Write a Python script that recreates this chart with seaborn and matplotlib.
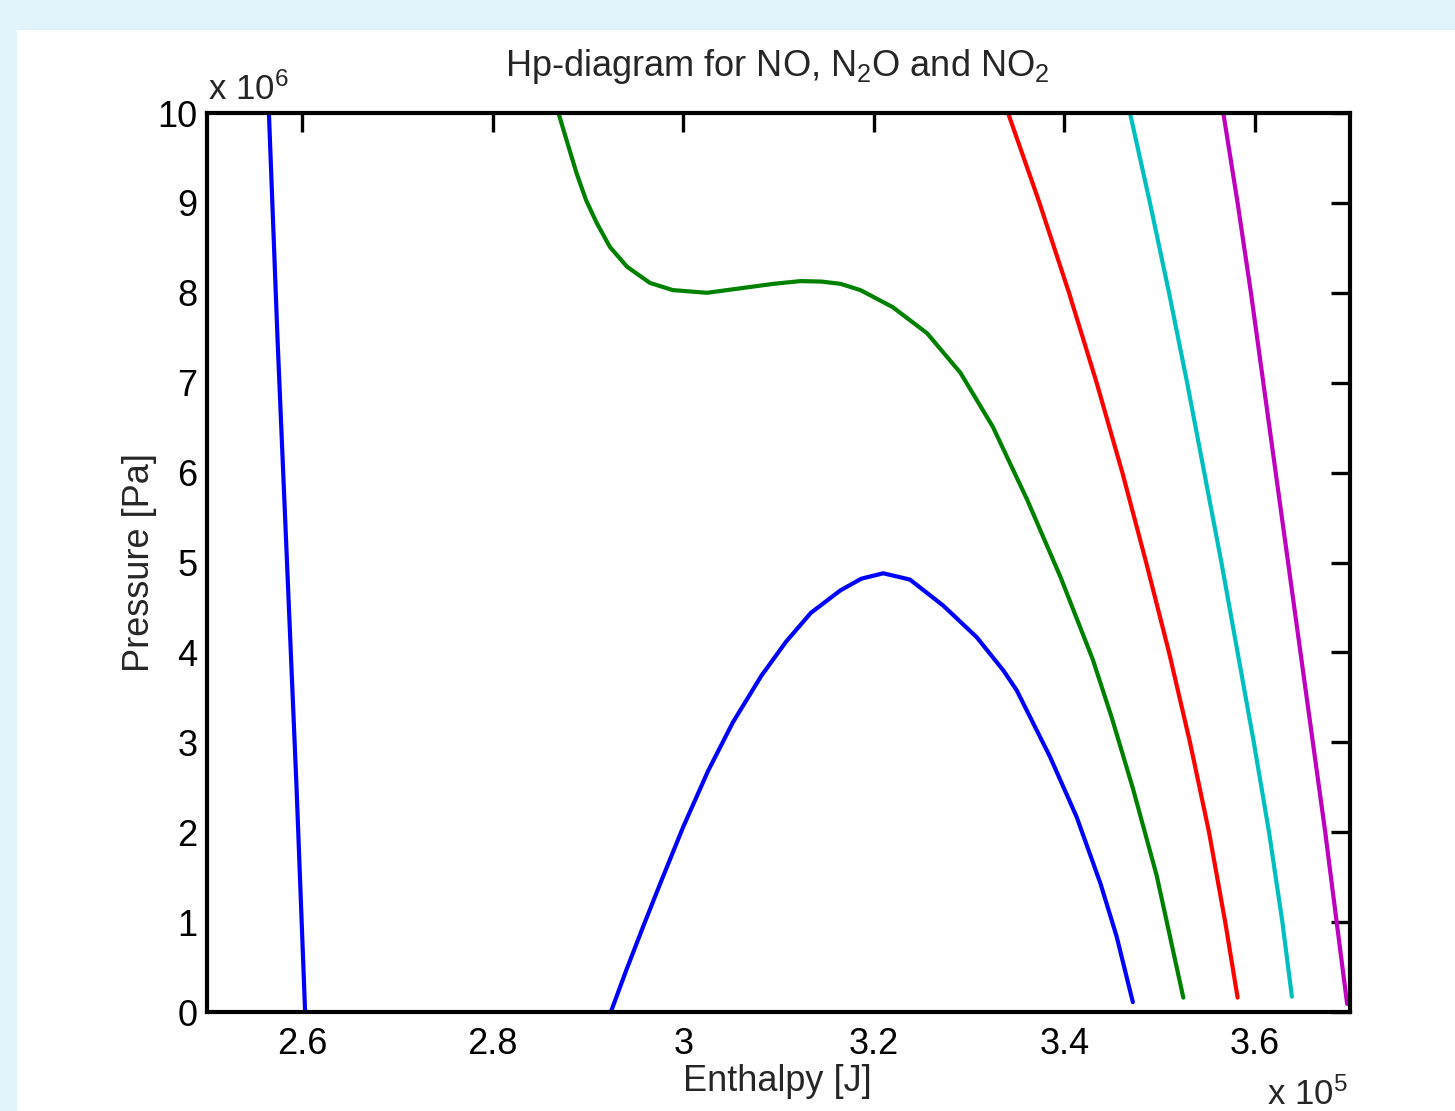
import pandas as pd
import matplotlib.pyplot as plt
from matplotlib.patches import Rectangle
import seaborn as sns

# Enthalpy in units of 1e5 J, pressure in units of 1e6 Pa
blue_left_h = [2.565, 2.574, 2.584, 2.594, 2.603]
blue_left_p = [10.0, 7.5, 5.0, 2.5, 0.0]

blue_arch_h = [2.924, 2.940, 2.959, 2.977, 3.000, 3.026, 3.052, 3.082, 3.108, 3.134, 3.165, 3.187,
               3.210, 3.238, 3.273, 3.308, 3.336, 3.350, 3.385, 3.413, 3.438, 3.455, 3.472]
blue_arch_p = [0.00, 0.46, 0.98, 1.46, 2.06, 2.68, 3.22, 3.74, 4.12, 4.44, 4.69, 4.82,
               4.88, 4.81, 4.52, 4.17, 3.80, 3.58, 2.84, 2.17, 1.43, 0.84, 0.11]

green_h = [2.869, 2.878, 2.888, 2.898, 2.909, 2.923, 2.941, 2.965, 2.989, 3.025, 3.067, 3.095,
           3.123, 3.145, 3.165, 3.186, 3.220, 3.256, 3.291, 3.325, 3.361, 3.396, 3.430,
           3.450, 3.472, 3.497, 3.525]
green_p = [10.0, 9.68, 9.33, 9.03, 8.78, 8.51, 8.29, 8.11, 8.03, 8.00, 8.06, 8.10,
           8.13, 8.125, 8.10, 8.03, 7.84, 7.55, 7.11, 6.51, 5.70, 4.84, 3.92,
           3.27, 2.49, 1.52, 0.16]

red_h = [3.341, 3.374, 3.405, 3.434, 3.461, 3.486, 3.510, 3.532, 3.552, 3.569, 3.582]
red_p = [10.0, 9.0, 8.0, 7.0, 6.0, 5.0, 4.0, 3.0, 2.0, 1.0, 0.16]

cyan_h = [3.469, 3.490, 3.510, 3.529, 3.547, 3.565, 3.582, 3.599, 3.615, 3.629, 3.639]
cyan_p = [10.0, 9.0, 8.0, 7.0, 6.0, 5.0, 4.0, 3.0, 2.0, 1.0, 0.17]

magenta_h = [3.567, 3.582, 3.596, 3.609, 3.622, 3.635, 3.648, 3.661, 3.674, 3.686, 3.697]
magenta_p = [10.0, 9.0, 8.0, 7.0, 6.0, 5.0, 4.0, 3.0, 2.0, 1.0, 0.09]

x_ticks = [2.6, 2.8, 3.0, 3.2, 3.4, 3.6]
x_tick_labels = ['2.6', '2.8', '3', '3.2', '3.4', '3.6']
y_ticks = list(range(0, 11))

curves = [
    (blue_left_h, blue_left_p, '#0000ff'),
    (blue_arch_h, blue_arch_p, '#0000ff'),
    (green_h, green_p, '#008000'),
    (red_h, red_p, '#ff0000'),
    (cyan_h, cyan_p, '#00bfbf'),
    (magenta_h, magenta_p, '#bf00bf'),
]

# Style
sns.set_style("white")
plt.rcParams['font.family'] = ['Liberation Sans', 'DejaVu Sans']
plt.rcParams['mathtext.fontset'] = 'custom'
plt.rcParams['mathtext.rm'] = 'Liberation Sans'
plt.rcParams['mathtext.default'] = 'regular'

fig = plt.figure(figsize=(14.55, 11.11), dpi=100, facecolor='#e1f3fb')
# white panel behind the plot
fig.patches.append(Rectangle((17 / 1455, 0), 1, (1111 - 30) / 1111,
                             transform=fig.transFigure, facecolor='white',
                             edgecolor='none', zorder=-5))
ax = fig.add_axes([207 / 1455, 99 / 1111, 1143 / 1455, 899 / 1111])
ax.set_zorder(2)
ax.set_facecolor('white')

for h, p, c in curves:
    df = pd.DataFrame({'h': h, 'p': p})
    sns.lineplot(data=df, x='h', y='p', color=c, linewidth=3, sort=False,
                 estimator=None, ax=ax, solid_joinstyle='round')

ax.set_xlim(2.5, 3.7)
ax.set_ylim(0, 10)
ax.set_xticks(x_ticks)
ax.set_xticklabels(x_tick_labels)
ax.set_yticks(y_ticks)
ax.tick_params(direction='in', length=14, width=2.4, top=True, right=True,
               labelsize=26, colors='black')
ax.tick_params(axis='x', pad=11)
ax.tick_params(axis='y', pad=7)
for s in ax.spines.values():
    s.set_visible(True)
    s.set_color('black')
    s.set_linewidth(3)

ax.set_xlabel('Enthalpy [J]', fontsize=26)
ax.set_ylabel('Pressure [Pa]', fontsize=26)
ax.xaxis.set_label_coords(0.4987, -0.058)
ax.yaxis.set_label_coords(-0.044, 0.5)

ax.text(0.4987, 1.041, 'Hp-diagram for NO, N$_2$O and NO$_2$', transform=ax.transAxes,
        ha='center', va='baseline', fontsize=26)
ax.text(0.001, 1.0145, 'x 10$^6$', transform=ax.transAxes,
        ha='left', va='baseline', fontsize=25)
ax.text(0.998, -0.1035, 'x 10$^5$', transform=ax.transAxes,
        ha='right', va='baseline', fontsize=25)

fig.savefig('out.png', dpi=100, facecolor=fig.get_facecolor())
